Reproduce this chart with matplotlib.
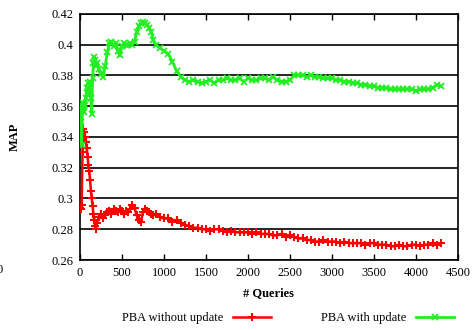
import matplotlib
matplotlib.use("Agg")
import matplotlib.pyplot as plt

plt.rcParams['font.family'] = ['Liberation Serif', 'DejaVu Serif']

queries = [0, 10, 20, 30, 40, 50, 60, 70, 80, 90, 100, 110, 120, 130, 140, 150, 160, 170, 180, 190, 200,
           225, 250, 275, 300, 325, 350, 375, 400, 425, 450, 475, 500, 525, 550, 575, 600, 625, 650, 675,
           700, 725, 750, 775, 800, 825, 850, 875,
           900, 950, 1000, 1050, 1100, 1150, 1200, 1250, 1300, 1350,
           1400, 1450, 1500, 1550, 1600, 1650, 1700, 1750, 1800, 1850,
           1900, 1950, 2000, 2050, 2100, 2150, 2200, 2250, 2300, 2350,
           2400, 2450, 2500, 2550, 2600, 2650, 2700, 2750, 2800, 2850,
           2900, 2950, 3000, 3050, 3100, 3150, 3200, 3250, 3300, 3350,
           3400, 3450, 3500, 3550, 3600, 3650, 3700, 3750, 3800, 3850,
           3900, 3950, 4000, 4050, 4100, 4150, 4200, 4250, 4300]

map_no_update = [0.294, 0.293, 0.296, 0.330, 0.345, 0.343, 0.340, 0.337, 0.333, 0.327, 0.322,
                 0.318, 0.312, 0.305, 0.300, 0.295, 0.290, 0.286, 0.282, 0.280, 0.284,
                 0.288, 0.290, 0.287, 0.289, 0.291, 0.292, 0.290, 0.293, 0.292, 0.291, 0.293,
                 0.292, 0.290, 0.292, 0.291, 0.293, 0.296, 0.294, 0.289, 0.286, 0.285, 0.291,
                 0.293, 0.292, 0.291, 0.290, 0.289,
                 0.290, 0.288, 0.287, 0.287, 0.285, 0.286, 0.284, 0.283, 0.282, 0.281,
                 0.281, 0.280, 0.280, 0.279, 0.280, 0.280, 0.279, 0.278, 0.279, 0.278,
                 0.278, 0.278, 0.278, 0.277, 0.278, 0.277, 0.277, 0.277, 0.276, 0.276,
                 0.277, 0.275, 0.276, 0.275, 0.274, 0.274, 0.273, 0.273, 0.272, 0.272,
                 0.273, 0.272, 0.272, 0.272, 0.271, 0.272, 0.271, 0.271, 0.271, 0.271,
                 0.270, 0.271, 0.271, 0.270, 0.270, 0.270, 0.269, 0.269, 0.270, 0.269,
                 0.269, 0.270, 0.270, 0.269, 0.270, 0.270, 0.271, 0.270, 0.271]

map_with_update = [0.360, 0.350, 0.335, 0.360, 0.362, 0.356, 0.361, 0.365, 0.372, 0.370, 0.375,
                   0.368, 0.376, 0.365, 0.355, 0.378, 0.388, 0.392, 0.390, 0.386, 0.388,
                   0.384, 0.381, 0.379, 0.386, 0.395, 0.401, 0.402, 0.399, 0.401, 0.396, 0.393,
                   0.399, 0.401, 0.400, 0.400, 0.401, 0.400, 0.402, 0.408, 0.412, 0.414, 0.415,
                   0.414, 0.413, 0.411, 0.408, 0.403,
                   0.400, 0.398, 0.396, 0.394, 0.389, 0.383, 0.379, 0.377, 0.376, 0.377,
                   0.376, 0.375, 0.376, 0.377, 0.375, 0.377, 0.377, 0.378, 0.377, 0.377,
                   0.378, 0.376, 0.378, 0.377, 0.377, 0.378, 0.378, 0.377, 0.379, 0.377,
                   0.376, 0.376, 0.377, 0.380, 0.380, 0.380, 0.379, 0.380, 0.379, 0.379,
                   0.378, 0.378, 0.378, 0.377, 0.377, 0.376, 0.376, 0.375, 0.375, 0.374,
                   0.374, 0.373, 0.373, 0.372, 0.372, 0.372, 0.371, 0.371, 0.371, 0.371,
                   0.371, 0.371, 0.370, 0.371, 0.371, 0.371, 0.372, 0.374, 0.373]

fig = plt.figure(figsize=(4.72, 3.30), dpi=100)
ax = fig.add_axes([0.1695, 0.212, 0.8005, 0.746])

ax.plot(queries, map_no_update, color='#ff0000', linewidth=1.8, marker='+',
        markersize=5.5, markeredgewidth=1.5, label='PBA without update', zorder=3)
ax.plot(queries, map_with_update, color='#22ee22', linewidth=2.0, marker='x',
        markersize=4, markeredgewidth=1.3, label='PBA with update', zorder=3)

ax.set_xlim(0, 4500)
ax.set_ylim(0.26, 0.42)
ax.set_xticks([0, 500, 1000, 1500, 2000, 2500, 3000, 3500, 4000, 4500])
ax.set_yticks([0.26, 0.28, 0.3, 0.32, 0.34, 0.36, 0.38, 0.4, 0.42])
ax.set_yticklabels(['0.26', '0.28', '0.3', '0.32', '0.34', '0.36', '0.38', '0.4', '0.42'])
ax.tick_params(axis='x', direction='in', top=True, length=4, width=1, labelsize=9, pad=5)
ax.tick_params(axis='y', direction='in', length=0, labelsize=9, pad=5)
ax.grid(axis='y', color='black', linewidth=1.2)
for s in ax.spines.values():
    s.set_linewidth(1.2)

ax.set_xlabel('# Queries', fontsize=9, fontweight='bold', labelpad=6)
ax.set_ylabel('MAP', fontsize=9, fontweight='bold', labelpad=22)

fig.legend(loc='center', bbox_to_anchor=(0.61, 0.036), ncol=2, frameon=False,
           markerfirst=False, fontsize=9, columnspacing=4, handlelength=3)

# partly cut-off label at the left edge, as in the source figure
fig.text(0.0, 0.182, '0', ha='center', va='center', fontsize=9)

fig.savefig('out.png', dpi=100)
